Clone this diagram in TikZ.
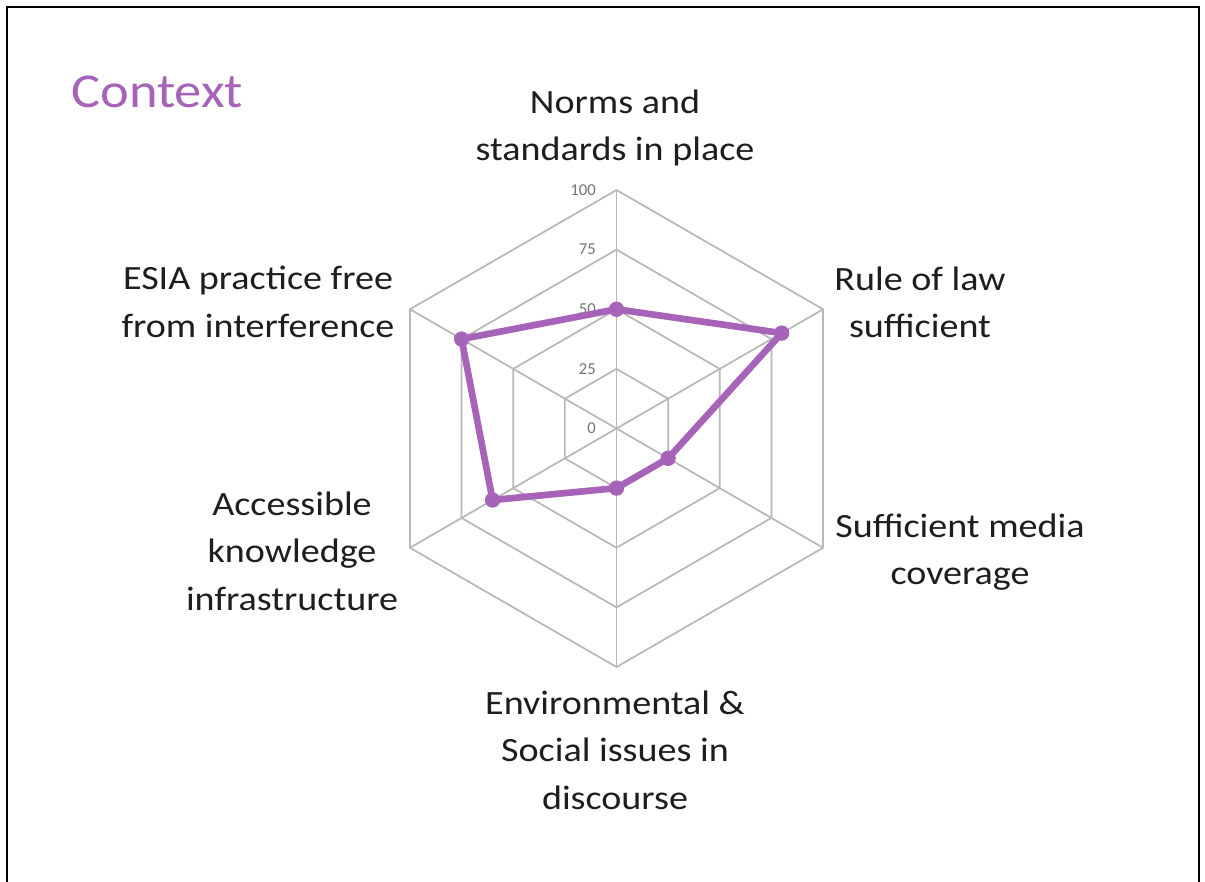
\documentclass[tikz,border=0pt]{standalone}
\usepackage{fontspec}
\setmainfont{Carlito}
\newfontfamily\labfont[FakeStretch=1.12]{Carlito}
\definecolor{chartpurple}{RGB}{166,99,184}
\definecolor{gridgray}{RGB}{184,184,184}
\definecolor{ticktext}{RGB}{115,115,115}
\definecolor{labeltext}{RGB}{30,30,30}
\begin{document}
\begin{tikzpicture}[x=0.75pt,y=-0.75pt,
  axislabel/.style={align=center, font=\labfont\fontsize{25.5}{35.5}\selectfont, text=labeltext, inner sep=0pt},
  ticklabel/.style={anchor=east, font=\fontsize{12.5}{14}\selectfont, text=ticktext, inner sep=0pt},
  gridline/.style={draw=gridgray, line width=1.3pt},
  dataline/.style={draw=chartpurple, line width=5pt, line join=round},
  datamark/.style={circle, fill=chartpurple, minimum size=11.5pt, inner sep=0pt},
  frameline/.style={draw=black, line width=1.7pt}]
\useasboundingbox (0,0) rectangle (1205,881);
\fill[white] (0,0) rectangle (1205,881);
% frame
\coordinate (f1) at (7,885);
\coordinate (f2) at (7,7);
\coordinate (f3) at (1199,7);
\coordinate (f4) at (1199,885);
\draw[frameline] (f1) -- (f2) -- (f3) -- (f4);
% title
\node[anchor=base west, inner sep=0pt, text=chartpurple, font=\labfont\fontsize{36.5}{40}\selectfont] (title) at (71,108) {Context};
% radar
\begin{scope}[shift={(616.5,428.5)}, x=0.75pt, y=0.75pt]
  \coordinate (O) at (0,0);
  \foreach \r in {59.625,119.25,178.875,238.5}{
    \draw[gridline] (90:\r) -- (30:\r) -- (-30:\r) -- (-90:\r) -- (-150:\r) -- (150:\r) -- cycle;
  }
  \foreach \a [count=\i] in {90,30,-30,-90,-150,150}{
    \coordinate (v\i) at (\a:238.5);
    \draw[gridline] (O) -- (v\i);
  }
  \node[ticklabel] (t0) at (-20.5,0) {0};
  \node[ticklabel] (t25) at (-20.5,59.625) {25};
  \node[ticklabel] (t50) at (-20.5,119.25) {50};
  \node[ticklabel] (t75) at (-20.5,178.875) {75};
  \node[ticklabel] (t100) at (-20.5,238.5) {100};
  \coordinate (d1) at (90:119.25);
  \coordinate (d2) at (30:190.8);
  \coordinate (d3) at (-30:59.625);
  \coordinate (d4) at (-90:59.625);
  \coordinate (d5) at (-150:143.1);
  \coordinate (d6) at (150:178.875);
  \draw[dataline] (d1) -- (d2) -- (d3) -- (d4) -- (d5) -- (d6) -- cycle;
  \foreach \i in {1,...,6}{ \node[datamark] (m\i) at (d\i) {}; }
\end{scope}
% axis labels
\node[axislabel] (l1) at (615,128) {Norms and\\standards in place};
\node[axislabel] (l2) at (920,302) {Rule of law\\sufficient};
\node[axislabel] (l3) at (960,552) {Sufficient media\\coverage};
\node[axislabel] (l4) at (615,750) {Environmental \&\\Social issues in\\discourse};
\node[axislabel] (l5) at (292,551) {Accessible\\knowledge\\infrastructure};
\node[axislabel] (l6) at (258,302) {ESIA practice free\\from interference};
\end{tikzpicture}
\end{document}
